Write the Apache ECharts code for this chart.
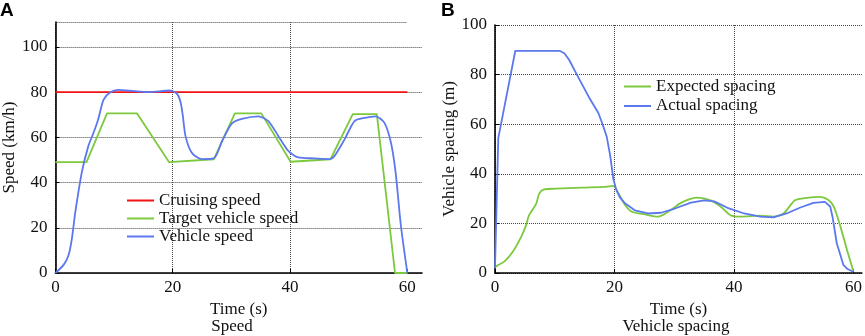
<!DOCTYPE html>
<html>
<head>
<meta charset="utf-8">
<script src="https://cdn.jsdelivr.net/npm/echarts@6/dist/echarts.min.js"></script>
<style>
  html, body { margin: 0; padding: 0; background: #fff; }
  #chart { width: 865px; height: 336px; }
</style>
</head>
<body>
<div id="chart"></div>
<script>
// panel A: speed
const cruiseT = [0, 60]
const cruiseV = [80, 80]
const targetT = [0, 5.3, 8.8, 13.9, 19.4, 27.0, 30.6, 35.1, 40.1, 46.9, 50.7, 54.8, 57.9, 60]
const targetV = [49, 49, 70.6, 70.6, 49, 50.3, 70.6, 70.6, 49.2, 50.3, 70.3, 70.3, 0, 0]
const vehicleT = [0, 1.4, 2.25, 2.8, 3.4, 4.5, 5.6, 6.5, 7.3, 8.2, 9.3, 10.7, 12.7, 16, 19.4, 20.6, 21.3, 21.7, 22.2, 23.3, 25, 27, 28.5, 30.1, 31.8, 34.6, 36.3, 38, 39.7, 41.4, 44.2, 46.8, 47.6, 49.3, 51, 52.7, 54.6, 56.1, 57.2, 58, 58.9, 60]
const vehicleV = [0, 3.6, 8, 15, 27, 44.5, 56, 62, 68, 76.6, 79.8, 81, 80.6, 80, 80.7, 79.6, 76, 70, 60.3, 53, 50.4, 50.7, 58.8, 66.2, 68.2, 69.3, 67.2, 60.6, 54, 51.1, 50.7, 50.4, 51.8, 59.1, 67.2, 68.6, 69.3, 66.4, 57.7, 44.5, 21, 0]

// panel B: spacing
const expT = [0, 0.2, 1.6, 3.0, 4.4, 5.2, 5.7, 6.9, 7.4, 8.2, 10.2, 14.6, 18.5, 19.8, 20.7, 21.8, 22.9, 25.1, 27.3, 29.0, 31.2, 33.9, 36.1, 37.8, 39.4, 41.1, 44.4, 46.6, 48.3, 50.2, 52.2, 54.4, 55.7, 56.7, 57.8, 58.9, 60]
const expV = [2, 2.7, 4.7, 8.7, 14.7, 19.3, 23.3, 28, 32, 33.7, 34, 34.4, 34.7, 35.1, 32, 27.3, 24.7, 23.6, 22.7, 24.7, 28.4, 30.4, 29.3, 26.7, 23.3, 22.7, 23.1, 22.7, 24, 29.3, 30.3, 30.7, 29.6, 26.8, 18.8, 9.4, 0.6]
const actT = [0, 0.55, 3.4, 10.8, 11.6, 12.4, 13.7, 15.7, 17.3, 18.0, 18.7, 19.3, 19.8, 20.3, 20.9, 21.8, 23.4, 25.6, 27.8, 30.1, 32.8, 35.0, 36.7, 38.9, 41.7, 44.4, 46.6, 48.8, 51.0, 53.3, 55.2, 56.1, 56.5, 57.2, 58.3, 59.0, 59.7, 60]
const actV = [2, 54.4, 89.6, 89.6, 88.6, 86, 80, 71, 64.5, 60, 55, 47, 38, 33.5, 30.5, 28, 25.3, 24, 24.3, 26, 28.4, 29.3, 28.9, 26.3, 24, 22.7, 22.4, 24, 26.3, 28.3, 28.7, 26.8, 22.5, 12, 3.3, 1.6, 0.8, 0.5]

const xTicks = [0, 20, 40, 60]
const yMaxA = 111
const xMaxA = 62.5
const xMaxB = 61.4

const serif = 'Liberation Serif'
const fs = 17
const pairs = (t, v) => t.map((x, i) => [x, v[i]])

const axisCommon = {
    axisLine: { lineStyle: { color: '#000', width: 1.6 } },
    axisTick: { inside: true, length: 4, lineStyle: { color: '#000' } },
    axisLabel: { color: '#111', fontFamily: serif, fontSize: fs, showMaxLabel: false },
    splitLine: { show: true, showMaxLine: false, lineStyle: { color: '#444', type: 'dotted', width: 1 } },
    nameTextStyle: { color: '#111', fontFamily: serif, fontSize: fs },
    nameLocation: 'middle'
}

const lineSeries = (name, data, color, xi, extra) => Object.assign({
    name,
    type: 'line',
    xAxisIndex: xi,
    yAxisIndex: xi,
    data,
    symbol: 'none',
    smooth: 0.25,
    lineStyle: { color, width: 1.8 },
    itemStyle: { color }
}, extra || {})

const chart = echarts.init(document.getElementById('chart'))
chart.setOption({
    animation: false,
    grid: [
        { left: 52, top: 22, width: 370, bottom: 63 },
        { left: 495, top: 25, right: 0, bottom: 63 }
    ],
    legend: [
        {
            orient: 'vertical', left: 127, top: 192, padding: 0,
            icon: 'rect', itemWidth: 27, itemHeight: 2, itemGap: 1,
            textStyle: { color: '#111', fontFamily: serif, fontSize: fs },
            data: ['Cruising speed', 'Target vehicle speed', 'Vehicle speed']
        },
        {
            orient: 'vertical', left: 624, top: 78, padding: 0,
            icon: 'rect', itemWidth: 27, itemHeight: 2, itemGap: 2.5,
            textStyle: { color: '#111', fontFamily: serif, fontSize: fs },
            data: ['Expected spacing', 'Actual spacing']
        }
    ],
    xAxis: [
        Object.assign({}, axisCommon, {
            gridIndex: 0, type: 'value', min: 0, max: xMaxA, interval: 20,
            name: 'Time (s)', nameGap: 24,
            axisLabel: Object.assign({}, axisCommon.axisLabel, { margin: 6 }),
            axisTick: Object.assign({}, axisCommon.axisTick, { customValues: xTicks })
        }),
        Object.assign({}, axisCommon, {
            gridIndex: 1, type: 'value', min: 0, max: xMaxB, interval: 20,
            name: 'Time (s)', nameGap: 24,
            axisLabel: Object.assign({}, axisCommon.axisLabel, { margin: 6 }),
            axisTick: Object.assign({}, axisCommon.axisTick, { customValues: xTicks })
        })
    ],
    yAxis: [
        Object.assign({}, axisCommon, {
            gridIndex: 0, type: 'value', min: 0, max: yMaxA, interval: 20,
            name: 'Speed (km/h)', nameGap: 36,
            axisLabel: Object.assign({}, axisCommon.axisLabel, { margin: 8 })
        }),
        Object.assign({}, axisCommon, {
            gridIndex: 1, type: 'value', min: 0, max: 100, interval: 20,
            name: 'Vehicle spacing (m)', nameGap: 36,
            axisLabel: Object.assign({}, axisCommon.axisLabel, { margin: 8, showMaxLabel: true }),
            splitLine: Object.assign({}, axisCommon.splitLine, { showMaxLine: true })
        })
    ],
    graphic: [
        { type: 'text', x: 0, y: 1, style: { text: 'A', font: 'bold 19px "Liberation Sans"', fill: '#000' } },
        { type: 'text', x: 441, y: 1, style: { text: 'B', font: 'bold 19px "Liberation Sans"', fill: '#000' } },
        { type: 'text', x: 232, y: 327, style: { text: 'Speed', font: fs + 'px "Liberation Serif"', fill: '#111', textAlign: 'center', textVerticalAlign: 'middle' } },
        { type: 'text', x: 676, y: 327, style: { text: 'Vehicle spacing', font: fs + 'px "Liberation Serif"', fill: '#111', textAlign: 'center', textVerticalAlign: 'middle' } }
    ],
    series: [
        lineSeries('Cruising speed', pairs(cruiseT, cruiseV), '#f21414', 0, {
            smooth: false,
            markLine: {
                silent: true,
                symbol: 'none',
                label: { show: false },
                lineStyle: { color: '#444', type: 'dotted', width: 1 },
                data: [[{ coord: [0, yMaxA] }, { coord: [60, yMaxA] }]]
            }
        }),
        lineSeries('Target vehicle speed', pairs(targetT, targetV), '#7cc93e', 0, { smooth: false }),
        lineSeries('Vehicle speed', pairs(vehicleT, vehicleV), '#5b78ee', 0),
        lineSeries('Expected spacing', pairs(expT, expV), '#7cc93e', 1),
        lineSeries('Actual spacing', pairs(actT, actV), '#5b78ee', 1, { smooth: false })
    ]
})
</script>
</body>
</html>
